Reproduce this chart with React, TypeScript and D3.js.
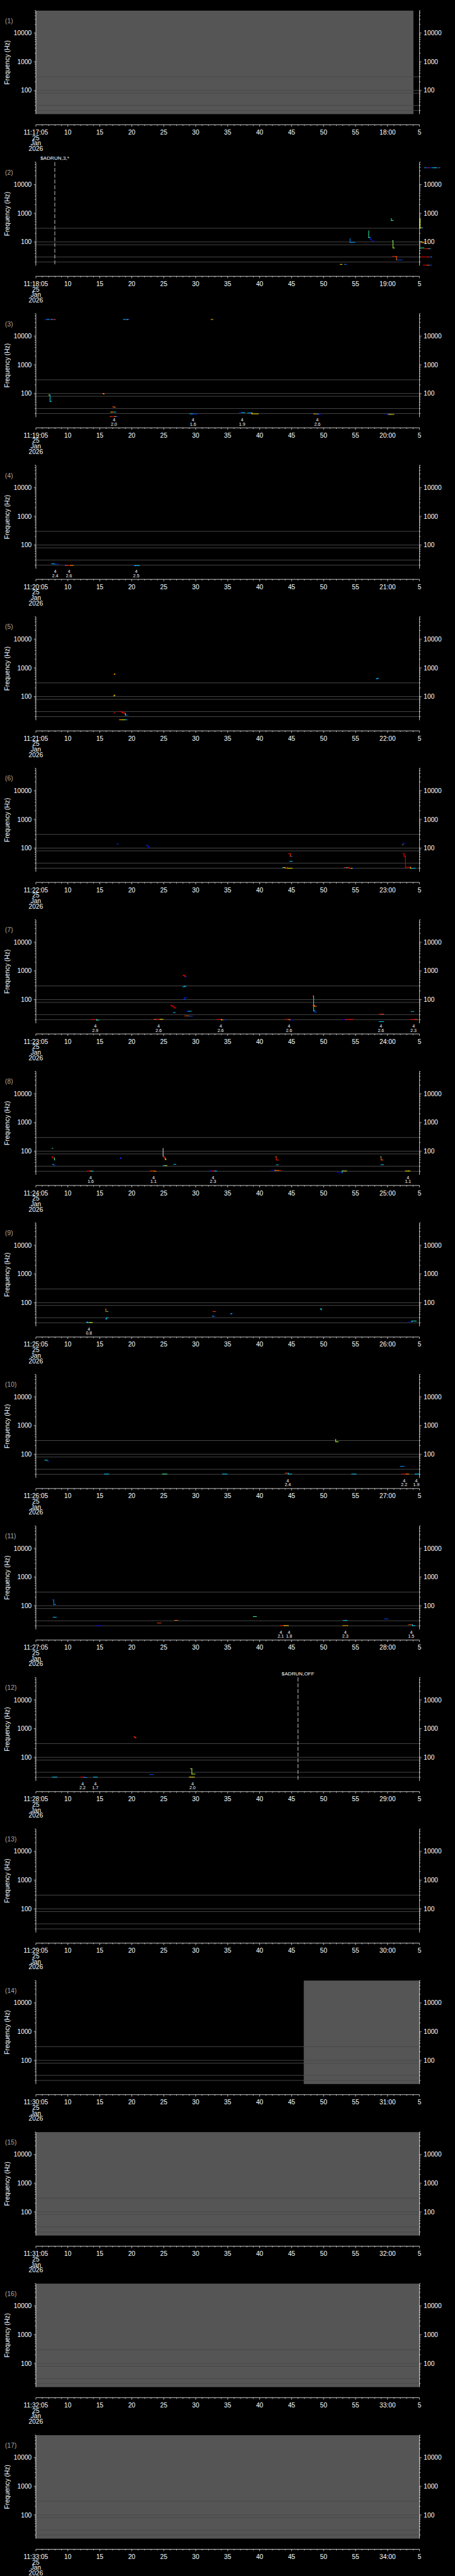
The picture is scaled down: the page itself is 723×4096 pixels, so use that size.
import React from 'react';
import * as d3 from 'd3';

// ---------- layout (in reference pixels, scaled by viewBox) ----------
const REF_W = 1024;
const REF_H = 5802;

// ---------- data ----------
type Pt = [number, number, number]; // [seconds after panel start, frequency Hz, colour value 0..1 (-1 = white)]

const panelStartMinutes = [17, 18, 19, 20, 21, 22, 23, 24, 25, 26, 27, 28, 29, 30, 31, 32, 33];
const freqDomain: [number, number] = [15, 60000];
const freqMajorTicks = [100, 1000, 10000];
const refLineFreqs = [300, 100, 80, 30, 20];
const dateLines = ['25', 'Jan', '2026'];

const p2Traces: Pt[][] = [
  [[47.6, 16.6, 0.7], [47.9, 16.6, 0.7]],
  [[48.3, 16.6, 0.3], [48.45, 16.6, 0.1], [48.6, 16.6, 0.1]],
  [[49.14, 131, 0.2], [49.14, 96.7, 0.2], [49.9, 96.7, 0.1]],
  [[52.06, 244, 0.45], [52.06, 143, 0.45], [52.3, 143, 0.1], [52.3, 125, 0.05], [52.5, 125, 0.05], [52.5, 110, 0], [52.9, 110, 0]],
  [[55.6, 650, 0.45], [55.6, 560, 0.45], [55.9, 560, 0.4]],
  [[55.75, 111, 0.25], [55.85, 111, 0.2], [55.85, 62, 0.6], [56.1, 62, 0.7]],
  [[55.8, 31.5, 1], [56.4, 31.5, 0.9], [56.4, 23.7, 0.85], [56.5, 23.7, 0.1], [57.3, 23.7, 0]],
  [[60.1, 650, 0.7], [60.1, 310, 0.65], [60.3, 310, 0.3], [60.5, 310, 0.3]],
  [[60.1, 102, 0.6], [60.4, 102, 0.7], [60.4, 95, 0.75], [60.7, 95, 0.8], [60.7, 100, 0.85], [61.0, 100, 0.9]],
  [[60.1, 62, 0.5], [60.7, 62, 0.45]],
  [[60.8, 58, 1], [61.2, 58, 0.9], [61.5, 58, 0.3], [61.7, 58, 0.3]],
  [[60.2, 30, 1], [61.2, 30, 0.95], [61.6, 30, 0.05], [61.8, 30, 0.3], [61.9, 30, 0.3]],
  [[60.6, 15.6, 1], [61.2, 15.6, 0.85], [61.6, 15.6, 0.1], [61.9, 15.6, 0.3]],
  [[60.8, 38400, 0.3], [61.0, 38400, 0.1], [61.4, 38400, 1], [61.6, 38400, 0.05], [62.0, 38400, 0.3], [62.4, 38400, 0.5], [62.7, 38400, 0.1], [63.1, 38400, 0.9], [63.2, 38400, 0.9]],
];

const p3Traces: Pt[][] = [
  [[1.45, 37900, 0.1], [1.8, 37900, 0.3], [2.1, 37900, 0.05], [2.4, 37900, 0.8], [2.6, 37900, 0.1], [2.8, 37900, 0.9], [3.07, 37900, 0.9]],
  [[13.7, 37900, 0.3], [14.1, 37900, 0.1], [14.3, 37900, 0.7], [14.45, 37900, 0.05], [14.6, 37900, 0.05]],
  [[27.4, 37900, 0.75], [27.7, 37900, 0.8]],
  [[2.0, 88.8, 0.6], [2.22, 88.8, 0.35], [2.22, 53, 0.35], [2.45, 53, 0.3]],
  [[10.4, 101, 1], [10.55, 101, 0.9], [10.55, 97, 0.75], [10.7, 97, 0.1]],
  [[12.0, 34.3, 0.9], [12.2, 34.3, 1], [12.2, 33.5, 0.85], [12.45, 33.5, 0.2]],
  [[11.7, 22.6, 0.7], [12.0, 22.6, 0.9], [12.2, 22.6, 0.3], [12.5, 22.6, 0.1]],
  [[11.6, 15.8, 0.9], [11.9, 15.8, 1], [12.3, 15.8, 0.75], [12.6, 15.8, 0.05], [12.85, 15.8, 0]],
  [[24.1, 19.6, 0.3], [24.6, 19.6, 0.25], [24.6, 19.1, 0.05], [25.2, 19.1, 0]],
  [[31.8, 21.8, 0.05], [32.2, 21.8, 0.3], [32.7, 21.8, 0.05]],
  [[33.1, 21.2, 0.2], [33.6, 21.2, 0.3], [33.8, 21.2, 0.25], [33.8, 19.6, 0.7], [34.8, 19.6, 0.1]],
  [[43.4, 20.2, 0], [43.5, 20.2, 0], [43.5, 19.5, 0.8], [44.0, 19.5, 0.7], [44.0, 19.0, 0.2], [44.3, 19.0, 0.1], [44.3, 18.5, 0], [44.65, 18.5, 0]],
  [[54.6, 18.7, 0], [55.1, 18.7, 0.6], [55.5, 18.7, 0.75], [56.0, 18.7, 0.1]],
];

const p4Traces: Pt[][] = [
  [[2.47, 22.1, 0.3], [3.0, 22.1, 0.25], [3.0, 21.5, 0.05], [3.55, 21.5, 0]],
  [[4.46, 20.1, 0], [4.6, 20.1, 0], [4.6, 19.5, 0.9], [5.0, 19.5, 1], [5.4, 19.5, 0.8], [5.86, 19.5, 0.1]],
  [[15.2, 19.0, 0], [15.5, 19.0, 0.05], [15.5, 19.4, 0.35], [16.2, 19.4, 0.1]],
];

const p5Traces: Pt[][] = [
  [[12.2, 590, 1], [12.3, 590, 0.8], [12.3, 610, 0.75], [12.4, 610, 0.75]],
  [[12.2, 105, 0.7], [12.25, 105, 0.7], [12.25, 112, 0.75], [12.4, 112, 0.7]],
  [[12.2, 27, 1], [12.4, 27, 1]],
  [[13.0, 29.8, 1], [13.4, 29.8, 1], [13.4, 28.5, 1], [13.6, 28.5, 1], [13.6, 26.8, 1], [13.9, 26.8, 1], [13.9, 26.0, 0.95], [14.0, 26.0, 0.6], [14.0, 22.6, 0.55], [14.1, 22.6, 0.1], [14.4, 22.6, 0]],
  [[13.07, 15.5, 0.75], [13.5, 15.5, 0.7], [13.9, 15.5, 0.5], [14.2, 15.5, 0.1], [14.4, 15.5, 0]],
  [[53.2, 410, 0.1], [53.35, 410, 0.1], [53.35, 430, 0.3], [53.6, 430, 0.25]],
];

const p6Traces: Pt[][] = [
  [[12.7, 140, 0.1], [12.9, 140, 0.3]],
  [[17.3, 125, 0.1], [17.45, 125, 0.3], [17.45, 117, 0.05], [17.6, 117, 0], [17.6, 109, 0], [17.8, 109, 0]],
  [[39.5, 63.6, 1], [39.8, 63.6, 1], [39.8, 51.6, 0.9], [39.9, 51.6, 0.1], [40.1, 51.6, 0.3]],
  [[39.7, 34.7, 0.3], [40.1, 34.7, 0.1]],
  [[38.6, 21, 0.3], [38.8, 21, 0.7], [39.0, 21, 0.6], [39.0, 20.3, 0.85], [39.4, 20.3, 0.8], [39.4, 19.9, 0.7], [39.8, 19.9, 0.7], [40.1, 19.9, 0.05]],
  [[48.2, 21, 1], [48.6, 21, 0.3], [48.8, 21, 1], [49.0, 21, 1], [49.0, 19.9, 0.95], [49.3, 19.9, 0.7], [49.6, 19.9, 0.05], [50.0, 19.9, 0]],
  [[57.35, 130, 0.75], [57.45, 130, 0.3], [57.45, 145, 0.05], [57.75, 145, 0.05]],
  [[57.4, 63.6, 1], [57.6, 63.6, 1], [57.6, 51.6, 1], [57.8, 51.6, 1], [57.8, 21.6, 1], [58.6, 21.6, 1], [58.6, 19.9, 0.7], [58.8, 19.9, 0.3], [59.35, 19.9, 0.1]],
];

const p7Traces: Pt[][] = [
  [[8.65, 20.4, 1], [9.5, 20.4, 1], [9.5, 19.4, 0.5], [9.7, 19.4, 0.25], [9.92, 19.4, 0.05]],
  [[18.5, 20.6, 0.85], [18.8, 20.6, 1], [19.4, 20.6, 0.7], [19.9, 20.6, 0.3]],
  [[21.1, 63.7, 1], [21.3, 63.7, 1], [21.3, 58, 1], [21.6, 58, 1], [21.6, 51.4, 1], [21.9, 51.4, 0.05]],
  [[21.5, 35.6, 0.3], [21.8, 35.6, 0.1]],
  [[23.0, 718, 1], [23.15, 718, 1], [23.15, 680, 1], [23.3, 680, 1], [23.3, 640, 1], [23.4, 640, 0.9], [23.4, 615, 0.05], [23.55, 615, 0]],
  [[23.0, 282, 0.3], [23.3, 282, 0.3], [23.3, 294, 0.3], [23.5, 294, 0.2]],
  [[23.1, 103, 0.1], [23.3, 103, 0.2], [23.3, 117, 0.05], [23.6, 117, 0.2]],
  [[23.55, 39.2, 0], [23.8, 39.2, 0.3], [24.3, 39.2, 0.05]],
  [[23.3, 27.1, 0.9], [24.0, 27.1, 1], [24.0, 26.5, 0.1], [24.5, 26.5, 0]],
  [[28.3, 20.4, 1], [29.0, 20.4, 1], [29.0, 19.7, 0.7], [29.3, 19.7, 0.1], [29.65, 19.7, 0]],
  [[39.0, 20.4, 1], [39.6, 20.4, 0.9], [39.6, 19.8, 0.8], [39.9, 19.8, 0.1], [39.9, 19.4, 0], [40.3, 19.4, 0]],
  [[43.3, 134, 1], [43.45, 134, 1], [43.45, 123.5, 0.45], [43.45, 41.1, 0.45], [43.6, 41.1, 0.3], [43.6, 37.3, 0.1], [43.9, 37.3, 0.1]],
  [[43.3, 63.7, 0.9], [43.6, 63.7, 1], [43.6, 58, 0.85], [43.9, 58, 0.8]],
  [[48.0, 20.0, 0], [48.4, 20.0, 0.3], [48.4, 20.4, 1], [49.2, 20.4, 1], [49.6, 20.4, 0.1]],
  [[53.7, 31.2, 1], [54.0, 31.2, 0.9], [54.4, 31.2, 0]],
  [[53.7, 17.1, 0.3], [54.4, 17.1, 0.1]],
  [[58.7, 38.7, 0.3], [59.1, 38.7, 0.1]],
  [[58.6, 20.4, 1], [59.3, 20.4, 0.9], [59.7, 20.4, 0.1]],
];

const p8Traces: Pt[][] = [
  [[2.55, 125, 0.5], [2.65, 125, 0.5]],
  [[2.47, 63.7, 1], [2.6, 63.7, 1], [2.6, 58.6, 1], [2.9, 58.6, 1], [2.9, 49.4, 0.5], [2.95, 49.4, 0.5]],
  [[2.6, 34.8, 0.3], [2.8, 34.8, 0.3], [2.8, 32.4, 0.1], [3.0, 32.4, 0.05]],
  [[13.1, 55.5, 0], [13.25, 55.5, 0], [13.25, 58, 0.1], [13.4, 58, 0.1]],
  [[8.0, 20.4, 1], [8.5, 20.4, 0.8], [8.7, 20.4, 0.7], [8.7, 20.0, 0.3], [9.0, 20.0, 0.3]],
  [[19.9, 125, -1], [19.9, 66, -1]],
  [[19.95, 66, 0.8], [20.05, 66, 1], [20.05, 58, 1], [20.25, 58, 1], [20.25, 51, 0.7], [20.4, 51, 0.1]],
  [[19.9, 31.2, 0.3], [20.2, 31.2, 0.7], [20.5, 31.2, 0.3]],
  [[21.56, 34.8, 0.3], [21.9, 34.8, 0.1]],
  [[17.9, 20.4, 0.9], [18.3, 20.4, 1], [18.5, 20.4, 0.75], [18.5, 20.0, 0.8], [18.8, 20.0, 0.2]],
  [[27.1, 21.0, 0], [27.5, 21.0, 0.2], [27.5, 20.5, 1], [28.0, 20.5, 1], [28.0, 20.2, 0.3], [28.3, 20.2, 0.2]],
  [[37.5, 63.7, 0.75], [37.6, 63.7, 0.75], [37.6, 49.4, 0.95], [38.0, 49.4, 0.85]],
  [[37.6, 33.6, 0.3], [37.9, 33.6, 0.1]],
  [[36.8, 21.8, 0], [37.4, 21.8, 0.05], [37.4, 21.3, 0.8], [38.0, 21.3, 1], [38.4, 21.3, 0.9]],
  [[47.1, 17.7, 0], [47.9, 17.7, 0], [47.9, 20.4, 0.3], [48.0, 20.4, 0.7], [48.6, 20.4, 0.8]],
  [[53.9, 63.7, 0.45], [54.0, 63.7, 0.85], [54.0, 49.4, 0.85], [54.3, 49.4, 0.9]],
  [[53.97, 33.9, 0.3], [54.4, 33.9, 0.1]],
  [[57.8, 20.4, 0.7], [58.3, 20.4, 0.7], [58.55, 20.4, 0.3]],
];

const p9Traces: Pt[][] = [
  [[7.85, 21.5, 0], [8.0, 21.5, 0], [8.0, 20.4, 0.5], [8.5, 20.4, 0.65], [8.85, 20.4, 0.5]],
  [[10.9, 60, 0.85], [10.95, 60, 0.85], [10.95, 49.4, 0.85], [11.1, 49.4, 0.3], [11.3, 49.4, 0.3]],
  [[10.9, 27.2, 0.3], [11.05, 27.2, 0.2], [11.05, 29.8, 0.3], [11.3, 29.8, 0.1]],
  [[27.7, 49.4, 0.9], [28.1, 49.4, 1]],
  [[27.6, 33.9, 0.3], [27.8, 33.9, 0.3], [27.8, 33, 0.1], [28.0, 33, 0.1]],
  [[30.4, 40, 0.1], [30.55, 40, 0.1], [30.55, 42, 0.25], [30.7, 42, 0.2]],
  [[44.5, 62, 0.3], [44.6, 62, 0.35], [44.6, 57, 0.35], [44.7, 57, 0.3]],
  [[58.3, 21.6, 0], [58.8, 21.6, 0.05], [58.8, 23, 0.4], [59.5, 23, 0.3]],
];

const p10Traces: Pt[][] = [
  [[1.4, 62, 0.4], [1.8, 62, 0.3], [1.8, 58, 0.1], [2.0, 58, 0.1]],
  [[10.7, 20.4, 0.3], [11.4, 20.4, 0.1]],
  [[19.8, 20.4, 0.5], [20.5, 20.4, 0.3]],
  [[29.2, 20.4, 0.3], [29.9, 20.4, 0.2]],
  [[39.0, 22.0, 0.9], [39.5, 22.0, 1], [39.5, 20.4, 0.3], [40.0, 20.4, 0.1]],
  [[46.9, 330, 0.55], [46.9, 270, 0.6], [47.3, 270, 0.65]],
  [[49.4, 20.4, 0.3], [50.1, 20.4, 0.1]],
  [[57.0, 38, 0.2], [57.6, 38, 0.1]],
  [[57.2, 20.4, 1], [57.9, 20.4, 0.8], [58.3, 20.4, 0.1]],
  [[59.3, 20.4, 0.3], [59.9, 20.4, 0.1]],
];

const p11Traces: Pt[][] = [
  [[2.6, 160, 0.1], [2.8, 160, 0.1], [2.8, 110, 0.2], [3.1, 110, 0.3]],
  [[2.7, 40, 0.3], [3.2, 40, 0.1]],
  [[9.5, 20.4, 0], [10.2, 20.4, 0.2]],
  [[19.0, 25, 0.9], [19.6, 25, 0.3]],
  [[21.7, 31, 0.85], [22.2, 31, 0.9]],
  [[34.0, 42, 0.5], [34.5, 42, 0.45]],
  [[38.2, 20.4, 1], [38.8, 20.4, 0.7], [39.5, 20.4, 0.1]],
  [[48.1, 31, 0.3], [48.7, 31, 0.2]],
  [[48.0, 20.4, 0.8], [48.8, 20.4, 0.2]],
  [[54.5, 35, 0.1], [55.1, 35, 0.3]],
  [[58.3, 22, 0.9], [58.9, 22, 0.7], [58.9, 20.4, 0.3], [59.3, 20.4, 0.1]],
];

const p12Traces: Pt[][] = [
  [[2.6, 20.4, 0.3], [3.3, 20.4, 0.1]],
  [[7.0, 20.4, 1], [7.6, 20.4, 0.8], [7.6, 19.6, 0.2], [8.0, 19.6, 0.1]],
  [[9.0, 20.4, 0.3], [9.6, 20.4, 0.1]],
  [[15.3, 520, 1], [15.5, 520, 1], [15.5, 480, 0.9], [15.7, 480, 0.9]],
  [[17.8, 25, 0.1], [18.4, 25, 0.3]],
  [[24.2, 40, 0.6], [24.4, 40, 0.65], [24.4, 26, 0.6], [24.9, 26, 0.5]],
  [[24.0, 20.4, 0.7], [24.8, 20.4, 0.3]],
];

const p13Traces: Pt[][] = [];

const panelTraces: Pt[][][] = [
  [], p2Traces, p3Traces, p4Traces, p5Traces, p6Traces, p7Traces, p8Traces, p9Traces,
  p10Traces, p11Traces, p12Traces, p13Traces, [], [], [], [],
];

// annotations under the plot: [panel index (1-based), seconds, value]
const noteTop = '4';
const notes: [number, number, string][] = [
  [3, 12.22, '2.0'], [3, 24.58, '1.6'], [3, 32.26, '1.9'], [3, 44.03, '2.6'],
  [4, 3.03, '2.4'], [4, 5.18, '2.6'], [4, 15.7, '2.5'],
  [7, 9.29, '2.9'], [7, 19.2, '2.6'], [7, 28.9, '2.6'], [7, 39.6, '2.6'], [7, 53.97, '2.6'], [7, 59.07, '2.3'],
  [8, 8.57, '1.6'], [8, 18.4, '1.1'], [8, 27.7, '2.3'], [8, 58.2, '1.1'],
  [9, 8.3, '0.8'],
  [10, 39.4, '2.4'], [10, 57.6, '2.2'], [10, 59.5, '1.9'],
  [11, 38.3, '2.1'], [11, 39.6, '1.8'], [11, 48.4, '2.3'], [11, 58.7, '1.5'],
  [12, 7.3, '2.2'], [12, 9.3, '1.7'], [12, 24.5, '2.0'],
];

// event markers: [panel, seconds, label]
const events: [number, number, string][] = [
  [2, 2.96, '$ADRUN,3,*'],
  [12, 41.0, '$ADRUN,OFF'],
];

// no-data spans: [panel, startSec, endSec]
const noData: [number, number, number][] = [
  [1, 0, 59.05],
  [14, 41.9, 60],
  [15, 0, 60],
  [16, 0, 60],
  [17, 0, 60],
];

// ---------- drawing ----------
const X0 = 80.7;
const SEC_PX = 14.39;
const TOP0 = 24;
const STEP = 341.3;
const PLOT_H = 233;
const FONT = '"Liberation Sans", Arial, sans-serif';
const FS = 14.5;

const jet = d3
  .scaleLinear<string>()
  .domain([0, 0.17, 0.33, 0.5, 0.67, 0.83, 1])
  .range(['#0000ff', '#0080ff', '#00e0ff', '#40ff90', '#ffff00', '#ff8000', '#ff0000'])
  .interpolate(d3.interpolateRgb);

const x = d3.scaleLinear().domain([0, 60]).range([X0, X0 + 60 * SEC_PX]);
const X1 = x(60);

function minorFreqTicks(): number[] {
  const out: number[] = [];
  [10, 100, 1000, 10000].forEach((d) => {
    for (let m = 2; m <= 9; m++) {
      const v = d * m;
      if (v >= freqDomain[0] && v <= freqDomain[1]) out.push(v);
    }
  });
  return out;
}
const minorTicks = minorFreqTicks();

function timeLabel(panel: number, sec: number): string {
  const d = new Date(2026, 0, 25, 11, panelStartMinutes[panel], 5 + sec);
  const s = d.getSeconds();
  const pad = (n: number) => String(n).padStart(2, '0');
  if (sec === 0) return `${d.getHours()}:${pad(d.getMinutes())}:${pad(s)}`;
  if (s === 0) return `${pad(d.getMinutes())}:00`;
  return String(s);
}

function Panel({ idx }: { idx: number }) {
  const top = TOP0 + STEP * idx;
  const bottom = top + PLOT_H;
  const y = d3.scaleLog().domain(freqDomain).range([bottom, top]);
  const axisY = top + 257;
  const panelNo = idx + 1;
  const gaps = noData.filter((g) => g[0] === panelNo);
  const traces = panelTraces[idx];
  const pNotes = notes.filter((n) => n[0] === panelNo);
  const pEvents = events.filter((e) => e[0] === panelNo);

  const segs: { x1: number; y1: number; x2: number; y2: number; c: string }[] = [];
  traces.forEach((tr) => {
    for (let i = 0; i < tr.length - 1; i++) {
      const p = tr[i];
      const q = tr[i + 1];
      const cp = p[2] < 0 ? '#e0e0e0' : jet(p[2]);
      const cq = q[2] < 0 ? '#e0e0e0' : jet(q[2]);
      if (q[0] !== p[0]) segs.push({ x1: x(p[0]), y1: y(p[1]), x2: x(q[0]), y2: y(p[1]), c: cp });
      if (q[1] !== p[1]) segs.push({ x1: x(q[0]), y1: y(p[1]), x2: x(q[0]), y2: y(q[1]), c: cq });
    }
  });

  const secTicks = d3.range(0, 61);
  return (
    <g>
      {refLineFreqs.map((f) => (
        <line key={'r' + f} x1={X0} x2={X1} y1={y(f)} y2={y(f)} stroke="#5a5a5a" strokeWidth={1.1} />
      ))}
      {gaps.map((g, i) => (
        <g key={'g' + i}>
          <rect x={x(g[1])} y={top} width={x(g[2]) - x(g[1])} height={PLOT_H} fill="#555555" />
          {refLineFreqs.map((f) => (
            <line key={'rg' + f} x1={x(g[1])} x2={x(g[2])} y1={y(f)} y2={y(f)} stroke="#444444" strokeWidth={1.1} />
          ))}
        </g>
      ))}
      {segs.map((s, i) => (
        <line key={'s' + i} x1={s.x1} y1={s.y1} x2={s.x2} y2={s.y2} stroke={s.c} strokeWidth={1.4} strokeLinecap="square" />
      ))}
      {pEvents.map((e, i) => (
        <g key={'e' + i}>
          <line x1={x(e[1])} x2={x(e[1])} y1={top} y2={bottom} stroke="#ffffff" strokeWidth={1.1} strokeDasharray="9 4" />
          <text x={x(e[1])} y={top - 5} fill="#ffffff" fontSize={11.5} fontFamily={FONT} textAnchor="middle">{e[2]}</text>
        </g>
      ))}
      {pNotes.map((n, i) => (
        <g key={'n' + i} fontFamily={FONT} fontSize={10} fill="#ffffff" textAnchor="middle">
          <text x={x(n[1])} y={bottom + 9.5}>{noteTop}</text>
          <text x={x(n[1])} y={bottom + 19}>{n[2]}</text>
        </g>
      ))}
      <line x1={X0} x2={X0} y1={top} y2={bottom} stroke="#fff" strokeWidth={1.1} />
      <line x1={X1} x2={X1} y1={top} y2={bottom} stroke="#fff" strokeWidth={1.1} />
      {minorTicks.map((f) => (
        <g key={'m' + f}>
          <line x1={X0 - 2.5} x2={X0} y1={y(f)} y2={y(f)} stroke="#fff" strokeWidth={1} />
          <line x1={X1} x2={X1 + 2.5} y1={y(f)} y2={y(f)} stroke="#fff" strokeWidth={1} />
        </g>
      ))}
      {freqMajorTicks.map((f) => (
        <g key={'M' + f} fontFamily={FONT} fontSize={FS} fill="#fff">
          <line x1={X0 - 4.5} x2={X0} y1={y(f)} y2={y(f)} stroke="#fff" strokeWidth={1} />
          <line x1={X1} x2={X1 + 4.5} y1={y(f)} y2={y(f)} stroke="#fff" strokeWidth={1} />
          <text x={X0 - 9.5} y={y(f) + 5.2} textAnchor="end">{String(f)}</text>
          <text x={X1 + 9.5} y={y(f) + 5.2} textAnchor="start">{String(f)}</text>
        </g>
      ))}
      <text
        transform={`translate(15.5,${top + PLOT_H / 2}) rotate(-90)`}
        textAnchor="middle"
        dy="0.36em"
        fontFamily={FONT}
        fontSize={FS}
        fill="#fff"
      >
        Frequency (Hz)
      </text>
      <text x={11.5} y={top + 28} fontFamily={FONT} fontSize={FS} fill="#a8a8a8">{`(${panelNo})`}</text>
      <line x1={X0} x2={X1} y1={axisY} y2={axisY} stroke="#fff" strokeWidth={1.1} />
      {secTicks.map((s) => (
        <line key={'t' + s} x1={x(s)} x2={x(s)} y1={axisY} y2={axisY + (s % 5 === 0 ? 4.3 : 2.5)} stroke="#fff" strokeWidth={1} />
      ))}
      {d3.range(0, 61, 5).map((s) => (
        <text key={'tl' + s} x={x(s)} y={axisY + 22} fontFamily={FONT} fontSize={FS} fill="#fff" textAnchor="middle">
          {timeLabel(idx, s)}
        </text>
      ))}
      {dateLines.map((d, i) => (
        <text key={'d' + i} x={X0} y={axisY + 34.3 + i * 12.3} fontFamily={FONT} fontSize={FS} fill="#fff" textAnchor="middle">
          {d}
        </text>
      ))}
    </g>
  );
}

export default function App() {
  return (
    <svg
      width={723}
      height={4096}
      viewBox={`0 0 ${REF_W} ${REF_H}`}
      preserveAspectRatio="none"
      style={{ position: 'absolute', left: 0, top: 0, display: 'block' }}
    >
      <rect x={0} y={0} width={REF_W} height={REF_H} fill="#000" />
      {panelStartMinutes.map((_, i) => (
        <Panel key={i} idx={i} />
      ))}
    </svg>
  );
}
